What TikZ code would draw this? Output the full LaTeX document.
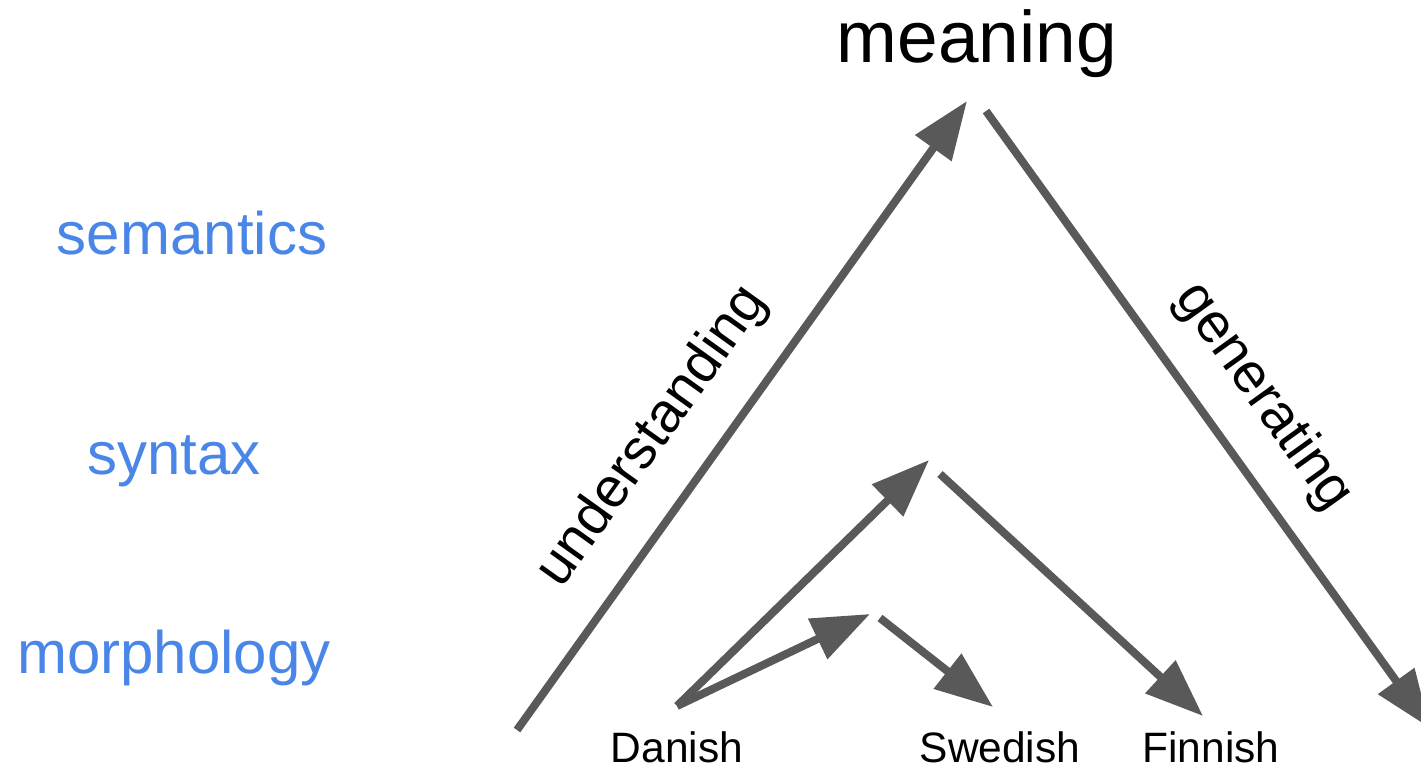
\documentclass[tikz,border=0pt]{standalone}
\usepackage{fontspec}
\setmainfont{Liberation Sans}
\usetikzlibrary{arrows.meta}
\definecolor{arrowgray}{HTML}{595959}
\definecolor{levelblue}{HTML}{4A86E8}
\tikzset{
  flow/.style={draw=arrowgray, line width=8pt, line cap=butt,
    -{Triangle[length=58pt,width=43pt]}},
  level/.style={text=levelblue, font=\fontsize{60}{72}\selectfont, inner sep=0pt, anchor=base},
  lang/.style={text=black, font=\fontsize{42.5}{51}\selectfont, inner sep=0pt, anchor=base},
  verb/.style={text=black, font=\fontsize{56}{67}\selectfont, inner sep=0pt},
}
\begin{document}
\begin{tikzpicture}[x=1pt, y=-1pt]
  \useasboundingbox (0,0) rectangle (1421,774);
  \clip (0,0) rectangle (1421,774);

  % headline
  \node[text=black, font=\fontsize{73}{88}\selectfont, inner sep=0pt, anchor=base] (meaning) at (977,62) {meaning};

  % linguistic levels
  \node[level] (sem) at (192,254) {semantics};
  \node[level] (syn) at (174,474) {syntax};
  \node[level] (mor) at (174,673) {morphology};

  % languages
  \node[lang] (danish) at (677,762) {Danish};
  \node[lang] (swedish) at (1000,762) {Swedish};
  \node[lang] (finnish) at (1211,762) {Finnish};

  % end points of the connectors
  \coordinate (uStart) at (517,730);
  \coordinate (meanIn) at (967,101);
  \coordinate (meanOut) at (986,111);
  \coordinate (gEnd) at (1430,728);
  \coordinate (daOut) at (677,706);
  \coordinate (synIn) at (929,460);
  \coordinate (synOut) at (940,474);
  \coordinate (fiIn) at (1203,716);
  \coordinate (morIn) at (870,614);
  \coordinate (morOut) at (880,618);
  \coordinate (swIn) at (993,707);

  % connectors
  \draw[flow] (uStart) -- (meanIn);
  \draw[flow] (meanOut) -- (gEnd);
  \draw[flow] (daOut) -- (synIn);
  \draw[flow] (synOut) -- (fiIn);
  \draw[flow] (daOut) -- (morIn);
  \draw[flow] (morOut) -- (swIn);

  % process labels
  \node[verb, rotate=54.4] (understanding) at (653,437) {understanding};
  \node[verb, rotate=-54.3] (generating) at (1263,397) {generating};
\end{tikzpicture}
\end{document}
